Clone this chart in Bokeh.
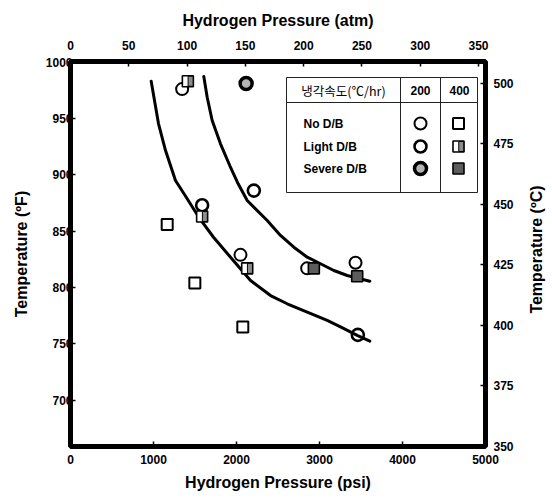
import math
from bokeh.plotting import figure
from bokeh.models import Range1d, LinearAxis, FixedTicker, Label
from bokeh.embed import file_html
from bokeh.resources import INLINE
from bokeh.core.properties import value
from bokeh.transform import dodge

# ---------------- data ----------------
psi_ticks = [0, 1000, 2000, 3000, 4000, 5000]
F_ticks = [700, 750, 800, 850, 900, 950, 1000]
atm_ticks = [0, 50, 100, 150, 200, 250, 300, 350]
C_ticks = [350, 375, 400, 425, 450, 475, 500]

# cooling rate 200 C/hr (circles)
nodb200_psi = [1345, 2048, 2851, 3434]
nodb200_F = [976, 829, 817, 822]
light200_psi = [1586, 2209, 3462]
light200_F = [873, 886, 758]
severe200_psi = [2116]
severe200_F = [981]

# cooling rate 400 C/hr (squares)
nodb400_psi = [1165, 1498, 2076]
nodb400_F = [856, 804, 765]
light400_psi = [1414, 1586, 2129]
light400_F = [983, 863, 817]
severe400_psi = [2932, 3454]
severe400_F = [817, 810]

# boundary curves (hand-drawn in the original)
lower_psi = [972, 1060, 1145, 1265, 1406, 1546, 1723, 1928, 2169, 2410, 2611, 2852, 3093, 3289, 3454, 3606]
lower_F = [983, 945.5, 921.5, 895, 878.7, 862.3, 844.6, 826.9, 806.2, 792.9, 785.6, 778.1, 770.8, 763.7, 757.5, 752.4]
upper_psi = [1606, 1647, 1707, 1807, 1920, 2012, 2129, 2370, 2530, 2691, 2852, 3012, 3173, 3334, 3606]
upper_F = [987.2, 968.8, 948.2, 927.5, 908, 893.2, 877.2, 859.5, 846.2, 835.8, 826.9, 821.1, 815.1, 810.7, 805.6]

legend_header = "냉각속도(℃/hr)"
legend_rates = ["200", "400"]
legend_rows = ["No D/B", "Light D/B", "Severe D/B"]

# ---------------- figure ----------------
X0, X1 = 0, 5000
Y0, Y1 = 659, 1000.5
p = figure(frame_width=415, frame_height=385,
           x_range=Range1d(X0, X1), y_range=Range1d(Y0, Y1),
           output_backend="svg", toolbar_location=None,
           min_border_left=70, min_border_right=63,
           min_border_top=61, min_border_bottom=51,
           background_fill_color="white", border_fill_color="white")
p.xgrid.visible = False
p.ygrid.visible = False
p.outline_line_width = 5
p.outline_line_color = "black"

p.extra_x_ranges = {"atm": Range1d(0, 356)}
p.extra_y_ranges = {"C": Range1d(350, 509)}
top_axis = LinearAxis(x_range_name="atm")
right_axis = LinearAxis(y_range_name="C")
p.add_layout(top_axis, "above")
p.add_layout(right_axis, "right")
bottom_axis = p.below[0]
left_axis = p.left[0]

FONT = "Liberation Sans"


def style(ax, ticks, label, standoff, label_standoff):
    ax.ticker = FixedTicker(ticks=ticks, minor_ticks=[])
    ax.axis_label = label
    ax.axis_line_color = None
    ax.major_tick_in = 5
    ax.major_tick_out = 0
    ax.minor_tick_in = 0
    ax.minor_tick_out = 0
    ax.major_tick_line_width = 1.5
    ax.major_tick_line_color = "black"
    ax.major_label_text_font = FONT
    ax.major_label_text_font_style = "bold"
    ax.major_label_text_font_size = "12px"
    ax.major_label_text_color = "black"
    ax.major_label_standoff = standoff
    ax.axis_label_text_font = FONT
    ax.axis_label_text_font_style = "bold"
    ax.axis_label_text_font_size = "16px"
    ax.axis_label_text_color = "black"
    ax.axis_label_standoff = label_standoff


style(bottom_axis, psi_ticks, "Hydrogen Pressure (psi)", 8, 7)
style(left_axis, F_ticks, "Temperature (ºF)", -2, 13)
style(top_axis, atm_ticks, "Hydrogen Pressure (atm)", 12, 9)
style(right_axis, C_ticks, None, 8, 16)

# right title, reading bottom-to-top, placed in its own side panel beyond the right axis
p.add_layout(Label(x=20, y=197, x_units="screen", y_units="screen",
                   text="Temperature (ºC)", angle=math.pi / 2,
                   text_align="center", text_baseline="middle", text_font=FONT,
                   text_font_style="bold", text_font_size="16px", text_color="black"), "right")

# curves
p.line(lower_psi, lower_F, line_width=3, line_color="black", line_join="round", line_cap="round")
p.line(upper_psi, upper_F, line_width=3, line_color="black", line_join="round", line_cap="round")

HALF = 33  # psi offset for the shaded half of a square


def circ(x, y, kind):
    if kind == "no":
        p.scatter(x, y, marker="circle", size=12, fill_color=None, line_color="black", line_width=2)
    elif kind == "light":
        p.scatter(x, y, marker="circle", size=12, fill_color=None, line_color="black", line_width=2.6)
    else:
        p.scatter(x, y, marker="circle", size=12, fill_color="#b4b4b4", line_color="black", line_width=3.5)


def sq(x, y, kind):
    if kind == "no":
        p.scatter(x, y, marker="square", size=11, fill_color="white", line_color="black", line_width=2)
    elif kind == "light":
        p.scatter(x, y, marker="square", size=11, fill_color="white", line_color="black", line_width=1.6)
        src = {"x": list(x), "y": list(y)}
        p.rect(x=dodge("x", HALF, range=p.x_range), y="y", width=5, height=10,
               width_units="screen", height_units="screen",
               fill_color="#8c8c8c", line_color="black", line_width=1, source=src)
    else:
        p.scatter(x, y, marker="square", size=11, fill_color="#5c5c5c", line_color="black", line_width=1.6)


circ(nodb200_psi, nodb200_F, "no")
circ(light200_psi, light200_F, "light")
circ(severe200_psi, severe200_F, "severe")
sq(nodb400_psi, nodb400_F, "no")
sq(light400_psi, light400_F, "light")
sq(severe400_psi, severe400_F, "severe")

# ---------------- legend table (layout in picture pixels) ----------------


def lx(px):
    return X0 + (px - 70) / 415 * (X1 - X0)


def ly(py):
    return Y1 - (py - 61) / 385 * (Y1 - Y0)


L, R, T, B = 286, 477, 77, 192
HL = 102
C1, C2 = 400, 440
xs = [[lx(L), lx(R), lx(R), lx(L), lx(L)], [lx(L), lx(R)], [lx(C1), lx(C1)], [lx(C2), lx(C2)]]
ys = [[ly(T), ly(T), ly(B), ly(B), ly(T)], [ly(HL), ly(HL)], [ly(T), ly(B)], [ly(T), ly(B)]]
p.multi_line(xs, ys, line_color="#222222", line_width=1)

p.text(x=[lx(343)], y=[ly(90)], text=[legend_header], text_font=value("Noto Sans CJK KR"),
       text_font_size="12.5px", text_align="center", text_baseline="middle", text_color="black")
p.text(x=[lx(420), lx(459)], y=[ly(90), ly(90)], text=legend_rates, text_font=value(FONT),
       text_font_style="bold", text_font_size="12px", text_align="center",
       text_baseline="middle", text_color="black")
rows_y = [123, 146, 168]
p.text(x=[lx(303)] * 3, y=[ly(v) for v in rows_y], text=legend_rows, text_font=value(FONT),
       text_font_style="bold", text_font_size="12px", text_align="left",
       text_baseline="middle", text_color="black")

kinds = ["no", "light", "severe"]
for k, ry in zip(kinds, rows_y):
    circ([lx(420)], [ly(ry)], k)
    sq([lx(458)], [ly(ry)], k)

open("out.html", "w").write(file_html(p, INLINE))
